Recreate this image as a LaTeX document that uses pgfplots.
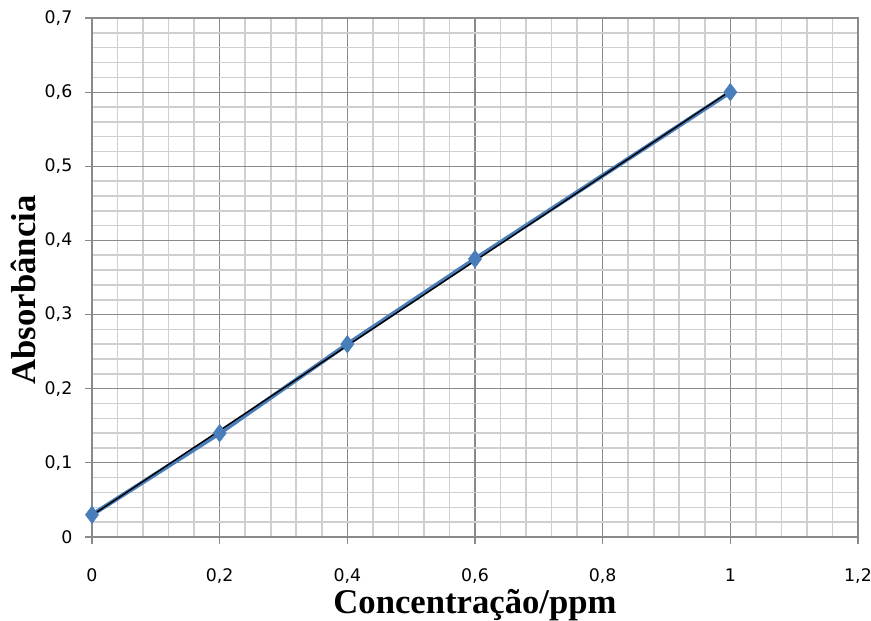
\documentclass[border=0pt]{standalone}
\usepackage{pgfplots}
\pgfplotsset{compat=1.18}
\usepackage{fontspec}
\setmainfont{Liberation Serif}
\newfontfamily\tickfont{DejaVu Sans}
\definecolor{serie}{HTML}{4A7EBB}
\definecolor{majgrid}{HTML}{8A8A8A}
\definecolor{mingrid}{HTML}{CFCFCF}

\begin{document}
\begin{tikzpicture}
\begin{axis}[
    scale only axis,
    width=574.5pt,
    height=389.25pt,
    xmin=0, xmax=1.2,
    ymin=0, ymax=0.7,
    xtick={0,0.2,0.4,0.6,0.8,1,1.2},
    ytick={0,0.1,0.2,0.3,0.4,0.5,0.6,0.7},
    minor xtick={0.04,0.08,0.12,0.16,0.24,0.28,0.32,0.36,0.44,0.48,0.52,0.56,
                 0.64,0.68,0.72,0.76,0.84,0.88,0.92,0.96,1.04,1.08,1.12,1.16},
    minor ytick={0.02,0.04,0.06,0.08,0.12,0.14,0.16,0.18,0.22,0.24,0.26,0.28,
                 0.32,0.34,0.36,0.38,0.42,0.44,0.46,0.48,0.52,0.54,0.56,0.58,
                 0.62,0.64,0.66,0.68},
    grid=both,
    major grid style={majgrid, line width=0.9pt},
    minor grid style={mingrid, line width=1.2pt},
    axis line style={majgrid, line width=0.9pt},
    tick style={majgrid, line width=0.9pt},
    tick align=outside,
    major tick length=5.25pt,
    minor tick length=0pt,
    xtick pos=left,
    ytick pos=left,
    /pgf/number format/assume math mode=true,
    /pgf/number format/use comma,
    /pgf/number format/1000 sep={},
    tick label style={font=\tickfont\fontsize{13}{15}\selectfont, black},
    xticklabel style={yshift=-15pt},
    yticklabel style={xshift=-6pt},
    xlabel={\bfseries Concentração/ppm},
    ylabel={\bfseries Absorbância},
    label style={font=\fontsize{26}{30}\selectfont},
    xlabel style={at={(axis description cs:0.5,-0.148)}, anchor=base, inner sep=0pt},
    ylabel style={at={(axis description cs:-0.09,0.476)}, anchor=center, rotate=0},
]

% measured points
\addplot[serie, line width=3.2pt, mark=diamond*, mark size=6.5pt,
         mark options={fill=serie, draw=serie, line width=0.5pt}]
coordinates {
    (0,0.030)
    (0.2,0.140)
    (0.4,0.260)
    (0.6,0.375)
    (1.0,0.600)
};

% linear trend line
\addplot[black, line width=1.1pt] coordinates {
    (0,0.0292)
    (1.0,0.6015)
};

\end{axis}
\pgfresetboundingbox
\path[use as bounding box]
    ([xshift=-69pt, yshift=-63pt]current axis.south west)
    rectangle ([xshift=9.75pt, yshift=13.5pt]current axis.north east);
\end{tikzpicture}
\end{document}
